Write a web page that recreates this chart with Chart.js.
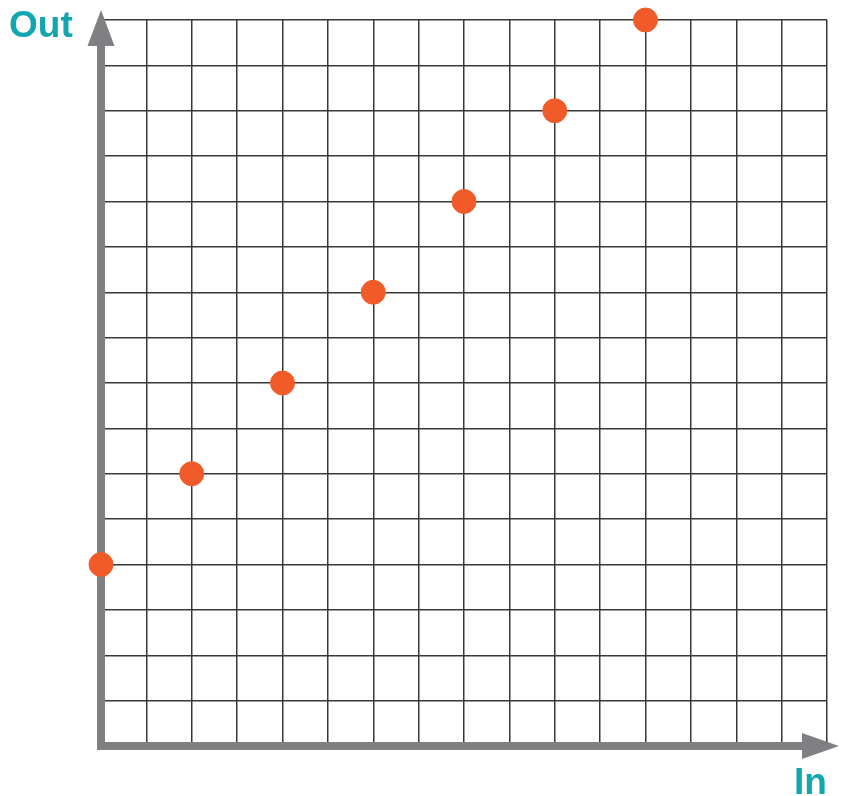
<!DOCTYPE html>
<html>
<head>
<meta charset="utf-8">
<script src="https://cdn.jsdelivr.net/npm/chart.js@4"></script>
<style>
  html, body { margin: 0; padding: 0; background: #fff; }
  #wrap { width: 846px; height: 796px; }
</style>
</head>
<body>
<div id="wrap"><canvas id="ioChart" width="846" height="796"></canvas></div>
<script>
// input / output pairs
const inValues = [0, 2, 4, 6, 8, 10, 12];
const outValues = [4, 6, 8, 10, 12, 14, 16];
const gridMax = 16;
const xAxisTitle = 'In';
const yAxisTitle = 'Out';

const axisGray = '#808083';
const labelTeal = '#12a6b1';

// draws the thick arrowed axes plus the two labels
const arrowAxes = {
    id: 'arrowAxes',
    beforeDatasetsDraw(chart) {
        const c = chart.ctx;
        const x0 = chart.scales.x.getPixelForValue(0);
        const y0 = chart.scales.y.getPixelForValue(0);
        const xEnd = chart.scales.x.getPixelForValue(gridMax);
        const yTop = chart.scales.y.getPixelForValue(gridMax);
        c.save();
        c.fillStyle = axisGray;
        // shafts
        c.fillRect(x0 - 4, yTop + 26, 8, y0 + 4 - (yTop + 26));
        c.fillRect(x0 - 4, y0 - 4, xEnd - 25 - (x0 - 4), 8);
        // arrow heads
        c.beginPath();
        c.moveTo(x0, yTop - 10);
        c.lineTo(x0 - 13.5, yTop + 26);
        c.lineTo(x0 + 13.5, yTop + 26);
        c.closePath();
        c.fill();
        c.beginPath();
        c.moveTo(xEnd + 12, y0);
        c.lineTo(xEnd - 25, y0 - 13);
        c.lineTo(xEnd - 25, y0 + 13);
        c.closePath();
        c.fill();
        c.restore();
    },
    afterDraw(chart) {
        const c = chart.ctx;
        c.save();
        c.fillStyle = labelTeal;
        c.textBaseline = 'alphabetic';
        c.font = 'bold 37px "Liberation Sans", Arial, sans-serif';
        c.fillText(yAxisTitle, 9, 37);
        c.font = 'bold 37px "Liberation Sans", Arial, sans-serif';
        c.fillText(xAxisTitle, 794, 794);
        c.restore();
    }
};

const ctx = document.getElementById('ioChart').getContext('2d');

new Chart(ctx, {
    type: 'scatter',
    data: {
        datasets: [{
            label: 'Out',
            data: inValues.map((v, i) => ({ x: v, y: outValues[i] })),
            backgroundColor: '#f15a29',
            borderColor: '#f15a29',
            pointRadius: 12,
            pointHoverRadius: 12,
            clip: false
        }]
    },
    options: {
        responsive: false,
        animation: false,
        layout: { padding: { left: 101, right: 19, top: 20, bottom: 50 } },
        plugins: {
            legend: { display: false },
            tooltip: { enabled: false }
        },
        scales: {
            x: {
                type: 'linear',
                min: 0,
                max: gridMax,
                ticks: { display: false, stepSize: 1 },
                grid: { color: '#383838', lineWidth: 1.5, drawTicks: false },
                border: { display: false }
            },
            y: {
                type: 'linear',
                min: 0,
                max: gridMax,
                ticks: { display: false, stepSize: 1 },
                grid: { color: '#383838', lineWidth: 1.5, drawTicks: false },
                border: { display: false }
            }
        }
    },
    plugins: [arrowAxes]
});
</script>
</body>
</html>
